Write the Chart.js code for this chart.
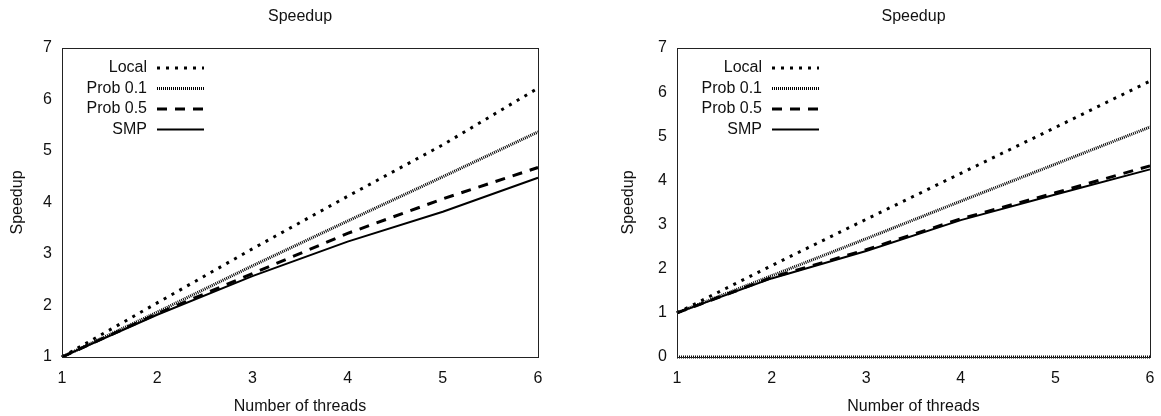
<!DOCTYPE html>
<html>
<head>
<meta charset="utf-8">
<script src="https://cdn.jsdelivr.net/npm/chart.js@4.4.0/dist/chart.umd.min.js"></script>
<style>
  html, body { margin: 0; padding: 0; background: #fff; }
  #wrap { position: relative; width: 1161px; height: 416px; }
  .panel { position: absolute; top: 0; height: 416px; }
</style>
</head>
<body>
<div id="wrap">
  <div class="panel" style="left:0;width:580px"><canvas id="left"></canvas></div>
  <div class="panel" style="left:580px;width:581px"><canvas id="right"></canvas></div>
</div>
<script>
// x axis: number of threads
const threads = [1, 2, 3, 4, 5, 6];

// left panel
const leftLocal = [1, 2.05, 3.1, 4.12, 5.12, 6.22];
const leftProb01 = [1, 1.87, 2.77, 3.64, 4.5, 5.37];
const leftProb05 = [1, 1.84, 2.62, 3.4, 4.07, 4.68];
const leftSmp = [1, 1.82, 2.57, 3.24, 3.82, 4.48];

// right panel
const rightLocal = [1, 2.07, 3.12, 4.16, 5.2, 6.25];
const rightProb01 = [1, 1.84, 2.68, 3.53, 4.37, 5.21];
const rightProb05 = [1, 1.8, 2.43, 3.13, 3.72, 4.33];
const rightSmp = [1, 1.78, 2.4, 3.1, 3.68, 4.25];
const rightZero = [0, 0, 0, 0, 0, 0];

const seriesNames = ['Local', 'Prob 0.1', 'Prob 0.5', 'SMP'];
const leftYTicks = [1, 7];
const rightYTicks = [0, 7];

const FONT = "'Liberation Sans', Arial, sans-serif";
const INK = '#000';
const TEXT = '#111';

const styles = [
  { borderWidth: 3, borderDash: [3, 6] },
  { borderWidth: 3, borderDash: [1, 1] },
  { borderWidth: 3, borderDash: [10, 8] },
  { borderWidth: 2, borderDash: [] },
];

function makeSets(values, extra) {
  const sets = values.map((v, i) => ({
    label: seriesNames[i],
    data: v,
    borderColor: INK,
    borderWidth: styles[i].borderWidth,
    borderDash: styles[i].borderDash,
    borderCapStyle: 'butt',
    pointRadius: 0,
    fill: false,
    tension: 0,
  }));
  if (extra) {
    sets.push({
      label: '',
      data: extra,
      borderColor: INK,
      borderWidth: 3,
      borderDash: [1, 1],
      borderCapStyle: 'butt',
      pointRadius: 0,
      fill: false,
      clip: 6,
    });
  }
  return sets;
}

// title centred on the plot, box around the plot, legend with text left of the sample
const framePlugin = {
  id: 'frame',
  afterDatasetsDraw(chart) {
    const { ctx, chartArea: a } = chart;
    ctx.save();
    ctx.strokeStyle = '#222';
    ctx.lineWidth = 1;
    ctx.setLineDash([]);
    ctx.strokeRect(a.left + 0.5, a.top + 0.5, a.right - a.left, a.bottom - a.top);

    ctx.font = '16px ' + FONT;
    ctx.fillStyle = TEXT;
    ctx.textAlign = 'center';
    ctx.textBaseline = 'middle';
    ctx.fillText('Speedup', (a.left + a.right) / 2, 17);

    ctx.textAlign = 'right';
    chart.data.datasets.forEach((ds, i) => {
      if (!ds.label) return;
      const y = a.top + 20 + i * 20.5;
      ctx.fillText(ds.label, a.left + 85, y);
      ctx.beginPath();
      ctx.strokeStyle = INK;
      ctx.lineWidth = ds.borderWidth;
      ctx.lineCap = 'butt';
      ctx.setLineDash(ds.borderDash);
      ctx.moveTo(a.left + 95, y);
      ctx.lineTo(a.left + 142, y);
      ctx.stroke();
    });
    ctx.restore();
  }
};

function makeChart(id, sets, yTicks, padLeft, padRight, yWidth) {
  return new Chart(document.getElementById(id), {
    type: 'line',
    data: { labels: threads, datasets: sets },
    plugins: [framePlugin],
    options: {
      responsive: true,
      maintainAspectRatio: false,
      animation: false,
      layout: { padding: { left: padLeft, right: padRight, top: 48, bottom: 0 } },
      plugins: {
        legend: { display: false },
        tooltip: { enabled: false },
        title: { display: false },
      },
      scales: {
        x: {
          type: 'category',
          offset: false,
          grid: { display: false, drawTicks: true, tickLength: 8 },
          border: { display: false },
          ticks: { color: TEXT, font: { family: FONT, size: 16 }, padding: 4, maxRotation: 0 },
          title: {
            display: true,
            text: 'Number of threads',
            color: TEXT,
            font: { family: FONT, size: 16 },
            padding: { top: 0, bottom: 0 },
          },
          afterFit(s) { s.height = 59; },
        },
        y: {
          min: yTicks[0],
          max: yTicks[1],
          grid: { display: false, drawTicks: true, tickLength: 6 },
          border: { display: false },
          ticks: { stepSize: 1, color: TEXT, font: { family: FONT, size: 16 }, padding: 4 },
          title: {
            display: true,
            text: 'Speedup',
            color: TEXT,
            font: { family: FONT, size: 16 },
            padding: { top: 0, bottom: 0 },
          },
          afterFit(s) { s.width = yWidth; },
        },
      },
    },
  });
}

makeChart('left', makeSets([leftLocal, leftProb01, leftProb05, leftSmp]), leftYTicks, 8, 42, 54);
makeChart('right', makeSets([rightLocal, rightProb01, rightProb05, rightSmp], rightZero), rightYTicks, 39, 11, 58);
</script>
</body>
</html>
